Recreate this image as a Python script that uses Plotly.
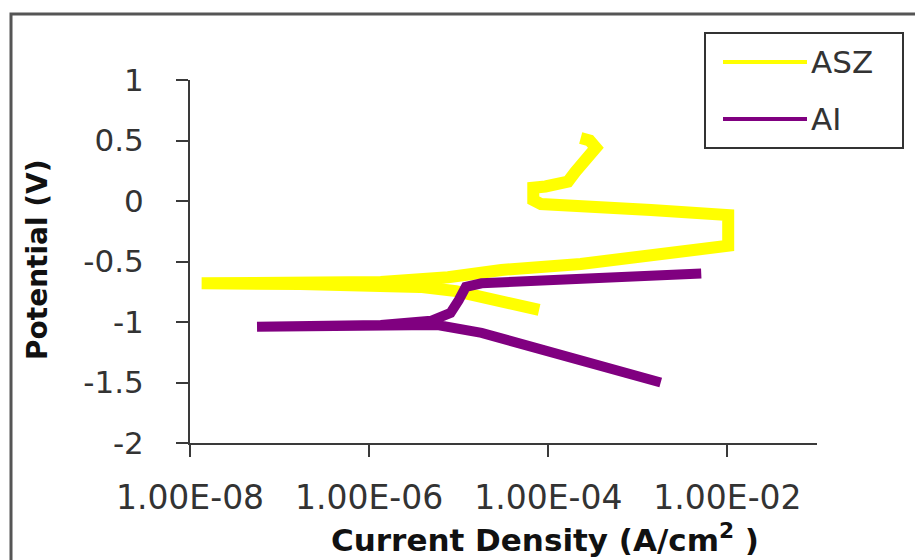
import plotly.graph_objects as go

# ---- data ----
asz_current = [7.9e-5, 3.8e-5, 1.8e-5, 9.3e-6, 3.7e-6, 1.35e-6, 1.7e-7, 1.35e-8,
               1.7e-7, 1.35e-6, 7.6e-6, 3.0e-5, 2.3e-4, 1.4e-3, 5.1e-3, 1.02e-2,
               1.02e-2, 1.02e-2, 1.4e-3, 2.3e-4, 8.3e-5, 6.8e-5, 6.8e-5, 9.3e-5,
               1.66e-4, 2.0e-4, 2.75e-4, 3.4e-4, 2.9e-4, 2.3e-4]
asz_potential = [-0.90, -0.85, -0.79, -0.745, -0.71, -0.695, -0.686, -0.68,
                 -0.678, -0.67, -0.63, -0.57, -0.52, -0.455, -0.405, -0.37,
                 -0.24, -0.116, -0.075, -0.04, -0.025, 0.008, 0.11, 0.12,
                 0.16, 0.24, 0.36, 0.44, 0.50, 0.52]

al_current = [1.8e-3, 5.5e-4, 9.8e-5, 1.8e-5, 5.8e-6, 1.35e-6, 1.7e-7, 5.6e-8,
              1.7e-7, 1.35e-6, 4.9e-6, 8.1e-6, 1.0e-5, 1.2e-5, 1.8e-5, 2.3e-4,
              1.4e-3, 5.1e-3]
al_potential = [-1.50, -1.39, -1.23, -1.09, -1.025, -1.03, -1.04, -1.04,
                -1.035, -1.025, -0.99, -0.925, -0.82, -0.71, -0.68, -0.645,
                -0.62, -0.60]

x_tickvals = [1e-8, 1e-6, 1e-4, 1e-2]
x_ticktext = ["1.00E-08", "1.00E-06", "1.00E-04", "1.00E-02"]
y_tickvals = [-2, -1.5, -1, -0.5, 0, 0.5, 1]
y_ticktext = ["-2", "-1.5", "-1", "-0.5", "0", "0.5", "1"]
series_names = ["ASZ", "AI"]
series_colors = ["#FFFF00", "#800080"]

# ---- figure ----
W, H = 915, 560
ML, MR, MT, MB = 190, 98, 80, 117
PW, PH = W - ML - MR, H - MT - MB


def px(x):
    return (x - ML) / PW


def py(y):
    return (H - MB - y) / PH


FONT = "DejaVu Sans"
AXC = "#3a3a3a"

fig = go.Figure()
fig.add_trace(go.Scatter(x=asz_current, y=asz_potential, mode="lines",
                         name=series_names[0],
                         line=dict(color=series_colors[0], width=12),
                         showlegend=False))
fig.add_trace(go.Scatter(x=al_current, y=al_potential, mode="lines",
                         name=series_names[1],
                         line=dict(color=series_colors[1], width=10),
                         showlegend=False))

fig.update_layout(
    width=W, height=H, autosize=False,
    margin=dict(l=ML, r=MR, t=MT, b=MB, pad=0),
    paper_bgcolor="white", plot_bgcolor="white",
    font=dict(family=FONT, color="#333333"),
    showlegend=False,
)
fig.update_xaxes(type="log", range=[-8, -1], tickvals=x_tickvals, ticktext=x_ticktext,
                 ticks="outside", ticklen=12, tickwidth=2, tickcolor=AXC,
                 showline=True, linecolor=AXC, linewidth=2, mirror=False,
                 showgrid=False, zeroline=False,
                 tickfont=dict(family=FONT, size=33, color="#333333"),
                 ticklabelstandoff=12)
fig.update_yaxes(range=[-2, 1], tickvals=y_tickvals, ticktext=y_ticktext,
                 ticks="outside", ticklen=12, tickwidth=2, tickcolor=AXC,
                 showline=True, linecolor=AXC, linewidth=2, mirror=False,
                 showgrid=False, zeroline=False,
                 tickfont=dict(family=FONT, size=31, color="#333333"),
                 ticklabelstandoff=26)

# axis titles
fig.add_annotation(x=px(545), y=py(560), xref="paper", yref="paper",
                   text="<b>Current Density (A/cm<sup>2</sup> )</b>", showarrow=False,
                   xanchor="center", yanchor="bottom",
                   font=dict(family=FONT, size=31, color="#111111"))
fig.add_annotation(x=px(37), y=py(260), xref="paper", yref="paper",
                   text="<b>Potential (V)</b>", showarrow=False, textangle=-90,
                   xanchor="center", yanchor="middle",
                   font=dict(family=FONT, size=28, color="#111111"))

# outer frame
fig.add_shape(type="rect", xref="paper", yref="paper",
              x0=px(11), x1=px(940), y0=py(14), y1=py(600),
              line=dict(color="#555555", width=3), layer="below")

# legend box
fig.add_shape(type="rect", xref="paper", yref="paper",
              x0=px(705), x1=px(903), y0=py(33), y1=py(148),
              line=dict(color="#333333", width=2), fillcolor="white")
legend_rows = [62, 119]
for name, color, yy in zip(series_names, series_colors, legend_rows):
    fig.add_shape(type="line", xref="paper", yref="paper",
                  x0=px(723), x1=px(807), y0=py(yy), y1=py(yy),
                  line=dict(color=color, width=4))
    fig.add_annotation(x=px(809), y=py(yy), xref="paper", yref="paper",
                       text=name, showarrow=False, xanchor="left", yanchor="middle",
                       font=dict(family=FONT, size=31, color="#333333"))

fig.write_html("out.html")
